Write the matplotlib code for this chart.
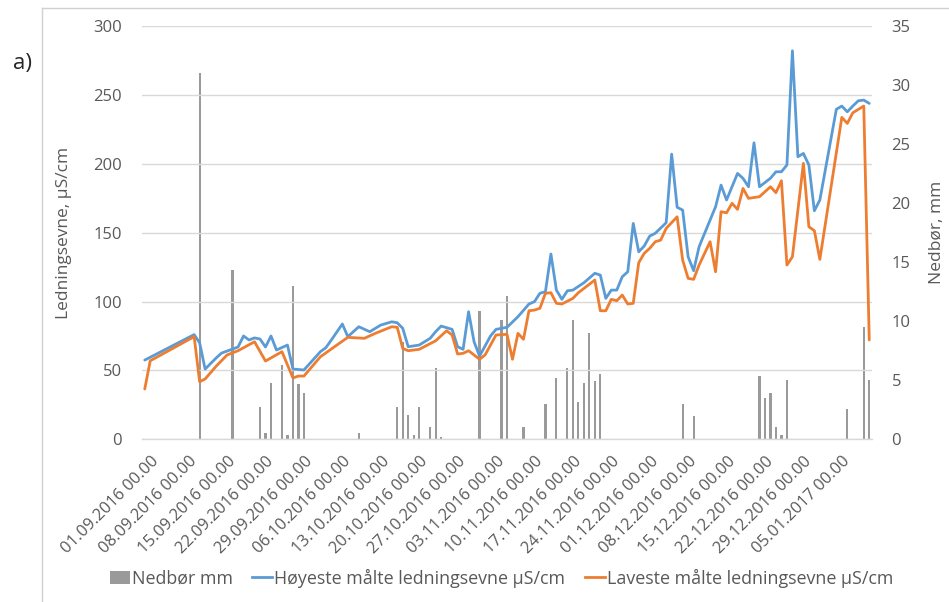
import matplotlib
matplotlib.use("Agg")
import matplotlib.pyplot as plt
from matplotlib.transforms import ScaledTranslation
from matplotlib.lines import Line2D
from matplotlib.patches import Patch
import numpy as np

plt.rcParams['font.family'] = ['Open Sans', 'DejaVu Sans']

# ---------------- data (day index = days since 01.09.2016, 133 daily categories) ----------------
n_days = 133
tick_labels = ["01.09.2016 00.00", "08.09.2016 00.00", "15.09.2016 00.00", "22.09.2016 00.00",
               "29.09.2016 00.00", "06.10.2016 00.00", "13.10.2016 00.00", "20.10.2016 00.00",
               "27.10.2016 00.00", "03.11.2016 00.00", "10.11.2016 00.00", "17.11.2016 00.00",
               "24.11.2016 00.00", "01.12.2016 00.00", "08.12.2016 00.00", "15.12.2016 00.00",
               "22.12.2016 00.00", "29.12.2016 00.00", "05.01.2017 00.00"]

rain_day = [10, 16, 21, 22, 23, 25, 26, 27, 28, 29, 39, 46, 47, 48, 49, 50, 52, 53, 54,
            61, 65, 66, 69, 73, 75, 77, 78, 79, 80, 81, 82, 83, 98, 100,
            112, 113, 114, 115, 116, 117, 128, 131, 132]
rain_mm = [31.0, 14.3, 2.7, 0.5, 4.8, 6.3, 0.4, 13.0, 4.7, 3.9, 0.5, 2.7, 8.2, 2.1, 0.4, 2.7, 1.0, 6.0, 0.2,
           10.9, 10.1, 12.1, 1.0, 3.0, 5.2, 6.0, 10.1, 3.2, 4.8, 9.0, 4.9, 5.5, 3.0, 2.0,
           5.4, 3.5, 3.9, 1.0, 0.4, 5.0, 2.6, 9.5, 5.0]

high_day = [0, 9, 10, 11, 12, 13, 14, 16, 17, 18, 19, 20, 21, 22, 23, 24, 26, 27, 29, 32, 33, 34,
            36, 37, 39, 41, 43, 45, 46, 47, 48, 50, 52, 53, 54, 56, 57, 58, 59, 60, 61, 63, 64,
            66, 68, 70, 71, 72, 73, 74, 75, 76, 77, 78, 80, 82, 83, 84, 85, 86, 87, 88, 89, 90,
            91, 92, 93, 95, 96, 97, 98, 99, 100, 101, 104, 105, 106, 108, 109, 110, 111, 112,
            114, 115, 116, 117, 118, 119, 120, 121, 122, 123, 126, 127, 128, 129, 130, 131, 132]
high_val = [57.5, 76.0, 70.0, 51.0, 55.0, 59.0, 62.6, 65.5, 67.0, 75.0, 72.1, 73.6, 72.8, 67.0,
            75.0, 64.8, 68.4, 51.0, 50.3, 63.6, 66.5, 72.1, 83.7, 74.5, 81.7, 78.1, 82.9, 85.3,
            84.6, 80.6, 67.2, 68.4, 73.3, 78.1, 82.2, 79.8, 67.2, 65.3, 92.6, 70.8, 60.4, 75.0,
            79.8, 81.3, 89.0, 98.2, 99.9, 106.0, 107.1, 134.5, 108.3, 101.6, 107.8, 108.3, 113.6,
            120.5, 119.2, 102.3, 108.3, 108.3, 118.0, 121.6, 156.7, 136.1, 140.3, 147.5, 149.5,
            157.2, 207.0, 168.4, 166.4, 132.5, 122.4, 139.8, 168.8, 184.5, 173.7, 193.0, 189.4,
            183.3, 215.2, 183.3, 189.5, 194.2, 194.2, 199.1, 282.0, 205.1, 207.5, 199.1, 165.9,
            173.7, 239.5, 241.9, 237.7, 241.9, 245.7, 246.2, 243.8]

low_day = [0, 1, 9, 10, 11, 13, 15, 17, 20, 22, 25, 27, 28, 29, 32, 35, 37, 40, 42, 45, 46, 47,
           48, 50, 53, 55, 56, 57, 58, 59, 61, 62, 64, 66, 67, 68, 69, 70, 71, 72, 73, 74, 75,
           76, 78, 79, 82, 83, 84, 85, 86, 87, 88, 89, 90, 91, 92, 93, 94, 95, 97, 98, 99, 100,
           101, 103, 104, 105, 106, 107, 108, 109, 110, 112, 114, 115, 116, 117, 118, 120, 121,
           122, 123, 127, 128, 129, 131, 132]
low_val = [36.5, 57.0, 74.5, 41.8, 43.8, 53.0, 61.2, 64.3, 70.8, 56.8, 63.6, 44.5, 45.9, 45.9,
           59.9, 68.4, 74.0, 73.3, 76.9, 81.7, 81.3, 66.0, 64.3, 65.3, 71.5, 78.8, 75.7, 61.9,
           62.4, 64.3, 58.1, 61.2, 75.7, 76.2, 58.1, 76.9, 72.6, 93.3, 93.8, 95.1, 106.0, 106.4,
           98.7, 98.2, 102.3, 106.4, 115.6, 93.3, 93.3, 101.6, 100.6, 104.7, 98.2, 98.7, 128.2,
           135.0, 138.6, 143.4, 144.6, 153.1, 161.5, 130.1, 116.8, 116.1, 126.5, 143.4, 121.6,
           165.2, 164.4, 171.3, 166.9, 182.1, 174.9, 176.1, 183.3, 179.0, 187.7, 126.5, 132.5,
           200.3, 154.3, 151.4, 130.6, 233.7, 229.3, 237.0, 241.9, 72.1]

series_labels = ["Nedbør mm", "Høyeste målte ledningsevne µS/cm", "Laveste målte ledningsevne µS/cm"]

# ---------------- styling ----------------
BLUE = "#5B9BD5"
ORANGE = "#ED7D31"
BAR = "#9A9A9A"
GRID = "#D9D9D9"
TXT = "#595959"

W, H = 949, 602
fig = plt.figure(figsize=(W / 100, H / 100), dpi=100)
left, right, top, bottom = 142, 872, 26, 439.3
ax = fig.add_axes([left / W, 1 - bottom / H, (right - left) / W, (bottom - top) / H])
ax2 = ax.twinx()

ax2.bar(rain_day, rain_mm, width=0.4, color=BAR, linewidth=0)
ax.plot(high_day, high_val, color=BLUE, lw=2.0, solid_joinstyle='round', solid_capstyle='round')
ax.plot(low_day, low_val, color=ORANGE, lw=2.0, solid_joinstyle='round', solid_capstyle='round')

ax.set_zorder(ax2.get_zorder() + 1)
ax.patch.set_visible(False)

ax.set_xlim(-0.5, n_days - 0.5)
ax.set_ylim(0, 300)
ax2.set_ylim(0, 35)
ax.set_yticks(np.arange(0, 301, 50))
ax2.set_yticks(np.arange(0, 36, 5))

ax.yaxis.grid(True, color=GRID, lw=1.0)
ax.set_axisbelow(True)
for s in ax.spines.values():
    s.set_visible(False)
for s in ax2.spines.values():
    s.set_visible(False)
ax.spines['bottom'].set_visible(True)
ax.spines['bottom'].set_color(GRID)
ax.spines['bottom'].set_linewidth(1.0)

ax.tick_params(axis='y', length=0, pad=14.4, labelsize=12, labelcolor=TXT)
ax2.tick_params(axis='y', length=0, pad=14, labelsize=12, labelcolor=TXT)

ax.set_xticks(np.arange(0, n_days, 7)[:len(tick_labels)])
ax.set_xticklabels(tick_labels, rotation=45, ha='right', va='top', rotation_mode='anchor',
                   fontsize=11.8, color=TXT)
ax.tick_params(axis='x', length=0, pad=10)
off = ScaledTranslation(6 / 100, 0, fig.dpi_scale_trans)
for lab in ax.get_xticklabels():
    lab.set_transform(lab.get_transform() + off)

ax.set_ylabel("Ledningsevne, µS/cm", fontsize=12.5, color=TXT)
ax.yaxis.set_label_coords((72.5 - left) / (right - left), 0.5)
ax2.set_ylabel("Nedbør, mm", fontsize=12.5, color=TXT)
ax2.yaxis.set_label_coords((929 - left) / (right - left), 0.5)

handles = [Patch(facecolor=BAR, edgecolor='none'),
           Line2D([], [], color=BLUE, lw=2.0),
           Line2D([], [], color=ORANGE, lw=2.0)]
fig.legend(handles, series_labels, loc='center', bbox_to_anchor=(501.5 / W, 1 - 578 / H),
           ncol=3, frameon=False, fontsize=12.9, handlelength=1.1, handletextpad=0.12,
           columnspacing=1.1, labelcolor=TXT)

fig.text(23 / W, 1 - 63 / H, "a)", fontsize=16, ha='center', va='center', color="#262626")

# chart border (left and top)
fig.add_artist(Line2D([42 / W, 42 / W], [0, 1 - 8 / H], transform=fig.transFigure, color="#D0D0D0", lw=1))
fig.add_artist(Line2D([42 / W, 1], [1 - 8 / H, 1 - 8 / H], transform=fig.transFigure, color="#D0D0D0", lw=1))

fig.savefig("out.png", dpi=100)
